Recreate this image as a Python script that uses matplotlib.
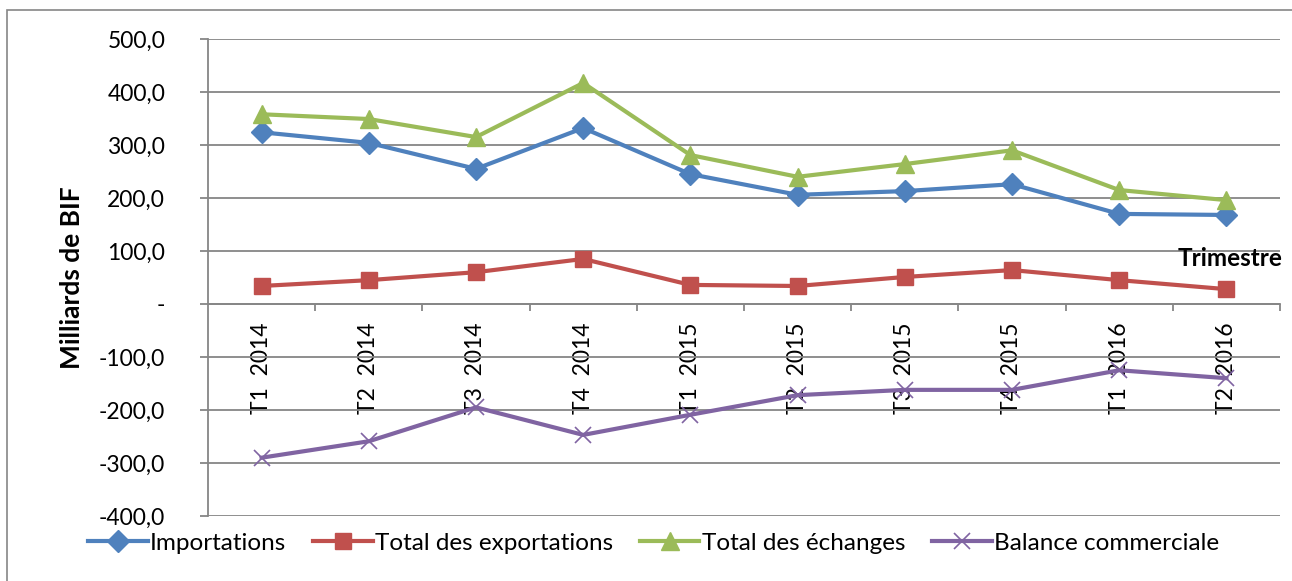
import matplotlib
matplotlib.use('Agg')
import matplotlib.pyplot as plt
from matplotlib.patches import Rectangle
from matplotlib.ticker import FuncFormatter

plt.rcParams['font.family'] = ['Lato', 'DejaVu Sans']

# Data (Milliards de BIF)
trimestres = ["T1  2014", "T2  2014", "T3  2014", "T4  2014", "T1  2015",
              "T2  2015", "T3  2015", "T4  2015", "T1  2016", "T2  2016"]
importations = [324, 304, 255, 332, 245, 206, 213, 226, 170, 168]
exportations = [34, 45, 60, 85, 36, 34, 51, 64, 45, 28]
echanges = [358, 349, 315, 417, 281, 240, 264, 290, 215, 196]
balance = [-290, -259, -195, -247, -209, -172, -162, -162, -125, -140]

fig = plt.figure(figsize=(12.92, 5.81), dpi=100)
ax = fig.add_axes([208 / 1292, 1 - 516 / 581, 1072 / 1292, 477 / 581])

# outer chart border
fig.patches.append(Rectangle((7 / 1292, -0.1), 1.2, 1 - 10 / 581 + 0.1,
                             transform=fig.transFigure, fill=False,
                             edgecolor='#868686', linewidth=1.2))

x = range(len(trimestres))
lw = 3.0
ax.plot(x, importations, color='#4F81BD', lw=lw, marker='D', markersize=11,
        label='Importations', zorder=4)
ax.plot(x, exportations, color='#C0504D', lw=lw, marker='s', markersize=12,
        label='Total des exportations', zorder=4)
ax.plot(x, echanges, color='#9BBB59', lw=lw, marker='^', markersize=13,
        label='Total des échanges', zorder=4)
ax.plot(x, balance, color='#8064A2', lw=lw, marker='x', markersize=11,
        markeredgewidth=1.2, label='Balance commerciale', zorder=4)

ax.set_xlim(-0.5, len(trimestres) - 0.5)
ax.set_ylim(-400, 500)
ax.set_yticks(range(-400, 501, 100))
ax.yaxis.set_major_formatter(FuncFormatter(
    lambda v, p: '-' if v == 0 else f"{v:.1f}".replace('.', ',')))
ax.yaxis.grid(True, color='#868686', linewidth=1.3)
ax.set_axisbelow(True)
ax.tick_params(axis='y', length=5.8, width=1.3, color='#868686', pad=25,
               labelsize=16.5)

# category axis at y = 0, ticks at category boundaries, labels at centres
ax.spines['bottom'].set_position(('data', 0))
ax.spines['bottom'].set_color('#868686')
ax.spines['bottom'].set_linewidth(1.3)
ax.set_xticks([i + 0.5 for i in range(len(trimestres))])
ax.set_xticklabels([])
ax.tick_params(axis='x', which='major', length=5, width=1.3, color='#868686',
               direction='out')
ax.set_xticks(list(x), minor=True)
ax.set_xticklabels(trimestres, minor=True, rotation=90, fontsize=16.5,
                   va='top')
ax.tick_params(axis='x', which='minor', length=0, pad=13)

for s in ['top', 'right']:
    ax.spines[s].set_visible(False)
ax.spines['left'].set_color('#868686')
ax.spines['left'].set_linewidth(1.3)

ax.set_ylabel('Milliards de BIF', fontsize=19, fontweight='bold')
ax.yaxis.set_label_coords((84 - 208) / 1072, 0.5)
fig.text(1283 / 1292, 1 - 258 / 581, 'Trimestre', fontsize=17.5,
         fontweight='bold', ha='right', va='center')

fig.legend(loc='center left', bbox_to_anchor=(88 / 1292, 1 - 543 / 581),
           ncol=4, frameon=False, fontsize=17.5, handlelength=2.45,
           handletextpad=0.1, columnspacing=1.1, borderaxespad=0,
           borderpad=0)

plt.savefig('out.png', dpi=100)
